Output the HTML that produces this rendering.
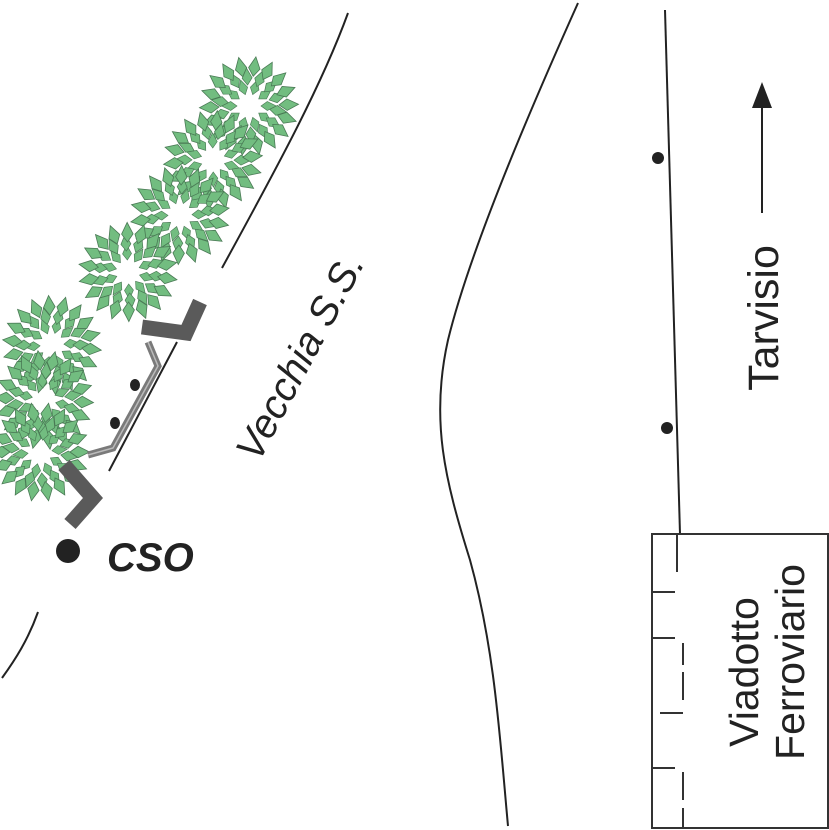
<!DOCTYPE html>
<html><head><meta charset="utf-8"><style>
html,body{margin:0;padding:0;background:#fff;}
svg{display:block;}
text{font-family:"Liberation Sans",Arial,sans-serif;}
</style></head><body>
<svg id="s" width="829" height="830" viewBox="0 0 829 830" xmlns="http://www.w3.org/2000/svg">
<defs>
<g id="leaf"><path d="M0,0 L7,-5 L17,0 L7,5 Z" fill="#72bd80" stroke="#4a7a55" stroke-width="0.7"/></g>
<g id="cl"></g>
</defs>
<g id="trees"></g>
<path d="M348,13 C320,90 270,180 222,268" fill="none" stroke="#222" stroke-width="2"/>
<path d="M38,612 C28,640 15,660 2,678" fill="none" stroke="#222" stroke-width="2"/>
<path d="M578,3 C530,110 470,250 448,340 C430,420 445,480 470,560 C495,650 500,740 508,826" fill="none" stroke="#222" stroke-width="2"/>
<path d="M665,10 L680,534" fill="none" stroke="#222" stroke-width="2"/>
<circle cx="658" cy="158" r="6" fill="#222"/>
<circle cx="667" cy="428" r="6" fill="#222"/>
<line x1="762" y1="213" x2="762" y2="105" stroke="#222" stroke-width="2"/>
<path d="M752,108 L762,82 L772,108 Z" fill="#222"/>
<text transform="translate(778,318) rotate(-90)" text-anchor="middle" font-size="43" fill="#222">Tarvisio</text>
<text transform="translate(312,363) rotate(-62)" text-anchor="middle" font-size="40" font-style="italic" fill="#222">Vecchia S.S.</text>
<rect x="652" y="534" width="176" height="294" fill="none" stroke="#333" stroke-width="2"/>
<g stroke="#333" stroke-width="2">
<line x1="677" y1="534" x2="677" y2="572"/>
<line x1="652" y1="592" x2="675" y2="592"/>
<line x1="652" y1="638" x2="675" y2="638"/>
<line x1="683" y1="643" x2="683" y2="665"/>
<line x1="683" y1="672" x2="683" y2="700"/>
<line x1="660" y1="713" x2="683" y2="713"/>
<line x1="652" y1="768" x2="675" y2="768"/>
<line x1="683" y1="772" x2="683" y2="800"/>
<line x1="683" y1="808" x2="683" y2="828"/>
</g>
<text transform="translate(758,672) rotate(-90)" text-anchor="middle" font-size="41" fill="#222">Viadotto</text>
<text transform="translate(804,662) rotate(-90)" text-anchor="middle" font-size="41" fill="#222">Ferroviario</text>
<polyline points="200,302 186,333 142,327" fill="none" stroke="#5a5a5a" stroke-width="15"/>
<polyline points="64,465 93,498 70,524" fill="none" stroke="#5a5a5a" stroke-width="15"/>
<polyline points="148,342 158,366 113,448 88,455" fill="none" stroke="#7a7a7a" stroke-width="7"/>
<polyline points="148,342 158,366 113,448 88,455" fill="none" stroke="#bbb" stroke-width="1.5"/>
<line x1="177" y1="342" x2="109" y2="471" stroke="#222" stroke-width="2"/>
<ellipse cx="135" cy="385" rx="5" ry="6" fill="#222"/>
<ellipse cx="115" cy="423" rx="5" ry="6" fill="#222"/>
<circle cx="68" cy="551" r="12" fill="#222"/>
<text x="107" y="571" font-size="40" font-weight="bold" font-style="italic" fill="#222">CSO</text>
</svg>
<script>
var NS="http://www.w3.org/2000/svg";
var cl=document.getElementById("cl");
var rings=[[12,10,0.9],[21,14,1],[30,18,1.15]];
rings.forEach(function(r,i){for(var k=0;k<r[1];k++){var a=k*360/r[1]+i*9;var u=document.createElementNS(NS,"use");u.setAttribute("href","#leaf");u.setAttribute("transform","rotate("+a+") translate("+r[0]+",0) scale("+r[2]+")");cl.appendChild(u);}});
var c=[[249,106],[213,160],[180,215],[128,272],[52,345],[44,400],[40,452]];
var t=document.getElementById("trees");
c.forEach(function(p,j){var u=document.createElementNS(NS,"use");u.setAttribute("href","#cl");u.setAttribute("transform","translate("+p[0]+","+p[1]+") rotate("+(j*17)+")");t.appendChild(u);});
</script>
</body></html>
